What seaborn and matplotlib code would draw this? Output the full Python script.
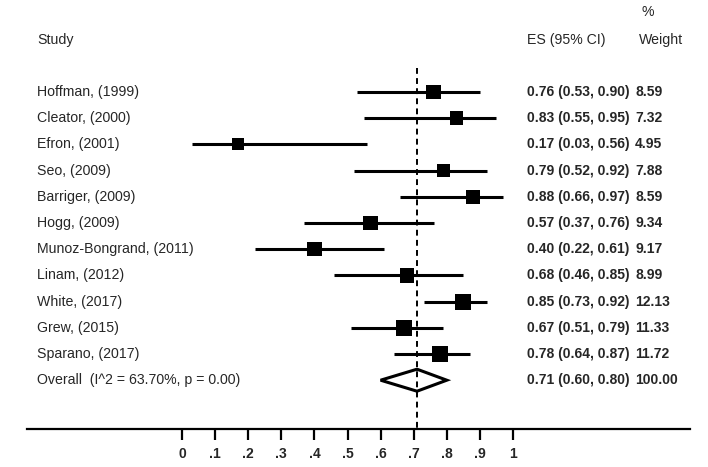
import numpy as np
import pandas as pd
import matplotlib
matplotlib.use("Agg")
import matplotlib.pyplot as plt
import seaborn as sns

studies = ["Hoffman, (1999)", "Cleator, (2000)", "Efron, (2001)", "Seo, (2009)",
           "Barriger, (2009)", "Hogg, (2009)", "Munoz-Bongrand, (2011)", "Linam, (2012)",
           "White, (2017)", "Grew, (2015)", "Sparano, (2017)"]
es = [0.76, 0.83, 0.17, 0.79, 0.88, 0.57, 0.40, 0.68, 0.85, 0.67, 0.78]
lo = [0.53, 0.55, 0.03, 0.52, 0.66, 0.37, 0.22, 0.46, 0.73, 0.51, 0.64]
hi = [0.90, 0.95, 0.56, 0.92, 0.97, 0.76, 0.61, 0.85, 0.92, 0.79, 0.87]
weight = [8.59, 7.32, 4.95, 7.88, 8.59, 9.34, 9.17, 8.99, 12.13, 11.33, 11.72]

overall_label = "Overall  (I^2 = 63.70%, p = 0.00)"
overall_es, overall_lo, overall_hi, overall_w = 0.71, 0.60, 0.80, 100.00

ticks = [0, 0.1, 0.2, 0.3, 0.4, 0.5, 0.6, 0.7, 0.8, 0.9, 1]
tick_labels = ["0", ".1", ".2", ".3", ".4", ".5", ".6", ".7", ".8", ".9", "1"]

sns.set_style("white")
plt.rcParams["font.family"] = ["Liberation Sans", "DejaVu Sans"]

df = pd.DataFrame({"study": studies, "es": es, "lo": lo, "hi": hi, "weight": weight})
df["row"] = np.arange(len(df))

fig = plt.figure(figsize=(7.08, 4.67), dpi=100)
W, H = 708, 467
ax = fig.add_axes([27 / W, (H - 429) / H, 663 / W, 429 / H])

# pixel -> data helpers for layout
px0, px1 = 182, 513
def xd(px):
    return (px - px0) / (px1 - px0)

row0, step = 92, 26.2
def yd(py):
    return (py - row0) / step

ax.set_xlim(xd(27), xd(690))
ax.set_ylim(yd(429), yd(0))

# CI lines
ax.hlines(df["row"], df["lo"], df["hi"], color="black", lw=2.2, zorder=2)

# weighted boxes
sns.scatterplot(data=df, x="es", y="row", size="weight",
                sizes=(75, 133), marker="s",
                color="black", edgecolor="black", linewidth=0, legend=False,
                ax=ax, zorder=3)

# overall diamond
orow = len(df)
hh = 0.42
ax.fill([overall_lo, overall_es, overall_hi, overall_es],
        [orow, orow - hh, orow, orow + hh],
        facecolor="white", edgecolor="black", lw=2.2, zorder=3)

# overall effect dashed line
ax.vlines(overall_es, yd(68), yd(429), color="black", lw=1.4,
          linestyles=(0, (3, 2.2)), zorder=4)

# text columns
fs = 10
lfs = 10.2
ax.text(xd(37), yd(40), "Study", fontsize=lfs, va="center", ha="left")
ax.text(xd(527), yd(40), "ES (95% CI)", fontsize=lfs, va="center", ha="left")
ax.text(xd(639), yd(40), "Weight", fontsize=lfs, va="center", ha="left")
ax.text(xd(641), yd(12), "%", fontsize=lfs, va="center", ha="left")

for i, r in df.iterrows():
    ax.text(xd(37), r["row"], r["study"], fontsize=lfs, va="center", ha="left")
    ax.text(xd(527), r["row"], f"{r['es']:.2f} ({r['lo']:.2f}, {r['hi']:.2f})",
            fontsize=fs, fontweight="bold", va="center", ha="left")
    ax.text(xd(635), r["row"], f"{r['weight']:.2f}", fontsize=fs,
            fontweight="bold", va="center", ha="left")

ax.text(xd(37), orow, overall_label, fontsize=lfs, va="center", ha="left")
ax.text(xd(527), orow, f"{overall_es:.2f} ({overall_lo:.2f}, {overall_hi:.2f})",
        fontsize=fs, fontweight="bold", va="center", ha="left")
ax.text(xd(635), orow, f"{overall_w:.2f}", fontsize=fs, fontweight="bold",
        va="center", ha="left")

# axis styling
for s in ["top", "left", "right"]:
    ax.spines[s].set_visible(False)
ax.spines["bottom"].set_linewidth(1.6)
ax.spines["bottom"].set_color("black")
ax.set_yticks([])
ax.set_xticks(ticks)
ax.set_xticklabels(tick_labels, fontsize=fs, fontweight="bold")
ax.tick_params(axis="x", direction="out", length=8, width=1.6, pad=5,
               color="black", bottom=True)
ax.set_xlabel("")
ax.set_ylabel("")

fig.savefig("out.png", dpi=100)
